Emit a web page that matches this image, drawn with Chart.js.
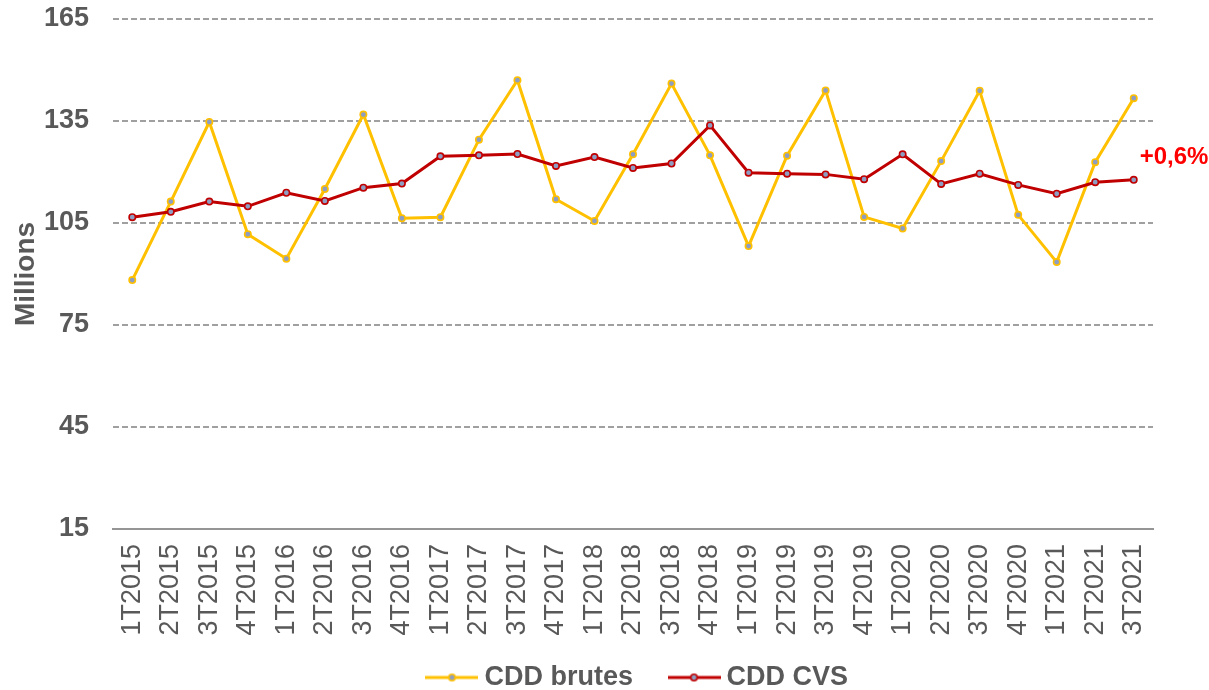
<!DOCTYPE html>
<html>
<head>
<meta charset="utf-8">
<script src="https://cdn.jsdelivr.net/npm/chart.js@4.4.1/dist/chart.umd.min.js"></script>
<style>
  html, body { margin: 0; padding: 0; background: #ffffff; }
  #wrap { width: 1209px; height: 690px; position: relative; }
</style>
</head>
<body>
<div id="wrap"><canvas id="c" width="1209" height="690"></canvas></div>
<script>
const categories = ["1T2015","2T2015","3T2015","4T2015","1T2016","2T2016","3T2016","4T2016","1T2017","2T2017","3T2017","4T2017","1T2018","2T2018","3T2018","4T2018","1T2019","2T2019","3T2019","4T2019","1T2020","2T2020","3T2020","4T2020","1T2021","2T2021","3T2021"];
const cddBrutes = [88.2,111.3,134.7,101.7,94.5,115.0,136.9,106.4,106.7,129.5,147.0,112.0,105.6,125.2,146.0,124.9,98.2,124.8,144.0,106.8,103.4,123.2,143.9,107.4,93.5,122.9,141.7];
const cddCvs = [106.7,108.3,111.3,109.9,113.9,111.5,115.4,116.6,124.6,124.9,125.3,121.8,124.4,121.2,122.5,133.7,119.8,119.5,119.3,117.9,125.2,116.5,119.5,116.2,113.6,117.0,117.7];
const yMin = 15, yMax = 165, yStep = 30;
const seriesNames = ["CDD brutes", "CDD CVS"];
const endLabel = "+0,6%";

const YELLOW = "#FFC000", RED = "#C00000", POINTFILL = "#8E9DC2", TEXT = "#595959";
const FONT = "'Liberation Sans', Arial, sans-serif";

function legendIcon(color, lw) {
  const c = document.createElement("canvas");
  c.width = 53; c.height = 14;
  const g = c.getContext("2d");
  g.strokeStyle = color; g.lineWidth = lw;
  g.beginPath(); g.moveTo(0, 7); g.lineTo(53, 7); g.stroke();
  g.beginPath(); g.arc(26.5, 7, 3.2, 0, Math.PI * 2);
  g.fillStyle = POINTFILL; g.fill();
  g.lineWidth = 1.6; g.strokeStyle = color; g.stroke();
  return c;
}
const legendIcons = [legendIcon(YELLOW, 3), legendIcon(RED, 3)];

const endLabelPlugin = {
  id: "endLabel",
  afterLayout(chart) {
    const lg = chart.legend;
    if (lg) { lg.left += 64; lg.right += 64; lg.top -= 17; lg.bottom -= 17; }
  },
  afterDatasetsDraw(chart) {
    const meta = chart.getDatasetMeta(1);
    const pt = meta.data[meta.data.length - 1];
    if (!pt) return;
    const ctx = chart.ctx;
    ctx.save();
    ctx.font = "bold 24px " + FONT;
    ctx.fillStyle = "#FF0000";
    ctx.textAlign = "left";
    ctx.textBaseline = "middle";
    ctx.fillText(endLabel, pt.x + 6, pt.y - 22);
    ctx.restore();
  }
};

new Chart(document.getElementById("c"), {
  type: "line",
  data: {
    labels: categories,
    datasets: [
      {
        label: seriesNames[0],
        data: cddBrutes,
        borderColor: YELLOW,
        borderWidth: 3,
        pointRadius: 3.2,
        pointBorderWidth: 1.6,
        pointBackgroundColor: POINTFILL,
        pointBorderColor: YELLOW,
        tension: 0,
        order: 1
      },
      {
        label: seriesNames[1],
        data: cddCvs,
        borderColor: RED,
        borderWidth: 3,
        pointRadius: 3.2,
        pointBorderWidth: 1.6,
        pointBackgroundColor: POINTFILL,
        pointBorderColor: RED,
        tension: 0,
        order: 0
      }
    ]
  },
  options: {
    responsive: false,
    animation: false,
    devicePixelRatio: 1,
    layout: { padding: { left: 0, right: 56, top: 19, bottom: -28 } },
    plugins: {
      tooltip: { enabled: false },
      legend: {
        position: "bottom",
        labels: {
          usePointStyle: true,
          pointStyleWidth: 38,
          padding: 42,
          color: TEXT,
          font: { family: FONT, size: 27, weight: "bold" },
          sort: (a, b) => a.datasetIndex - b.datasetIndex,
          generateLabels(chart) {
            return chart.data.datasets.map((ds, i) => ({
              text: ds.label,
              pointStyle: legendIcons[i],
              fillStyle: ds.borderColor,
              strokeStyle: ds.borderColor,
              lineWidth: 0,
              fontColor: TEXT,
              hidden: false,
              datasetIndex: i
            }));
          }
        }
      }
    },
    scales: {
      x: {
        offset: true,
        grid: { display: false, drawTicks: false, offset: true },
        border: { display: true, color: "#959595", width: 2 },
        ticks: {
          autoSkip: false,
          maxRotation: 90,
          minRotation: 90,
          padding: 15,
          color: TEXT,
          font: { family: FONT, size: 27 }
        },
        afterFit(scale) { scale.height = 110; }
      },
      y: {
        min: yMin,
        max: yMax,
        ticks: {
          stepSize: yStep,
          padding: 0,
          color: TEXT,
          font: { family: FONT, size: 27, weight: "bold" }
        },
        grid: { color: "#A0A0A0", lineWidth: 2, drawTicks: true, tickLength: 24, tickColor: "rgba(0,0,0,0)" },
        border: { display: false, dash: [6, 3] },
        title: {
          display: true,
          text: "Millions",
          color: TEXT,
          padding: { top: 9, bottom: 0 },
          font: { family: FONT, size: 28, weight: "bold" }
        },
        afterFit(scale) { scale.width = 113; }
      }
    }
  },
  plugins: [endLabelPlugin]
});
</script>
</body>
</html>
